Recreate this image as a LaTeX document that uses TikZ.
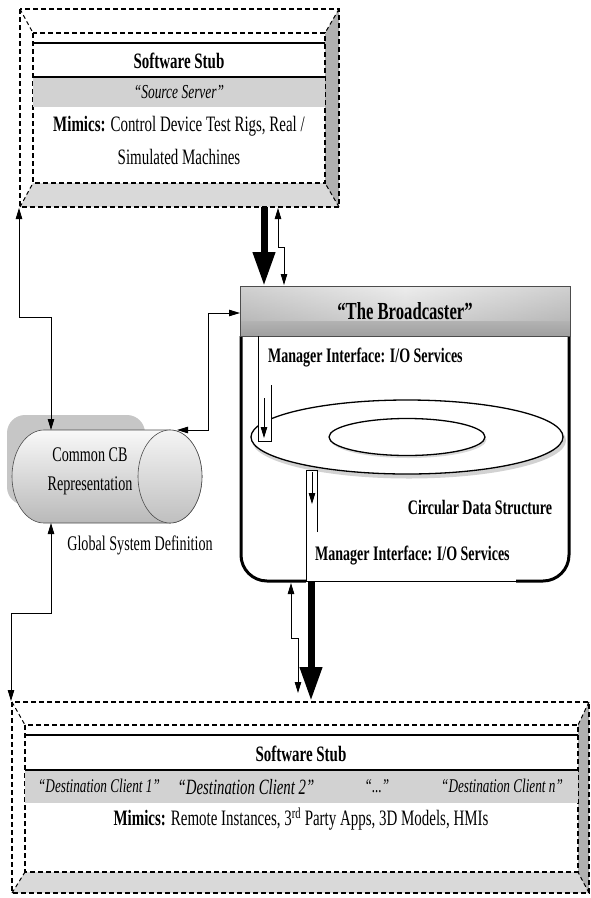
\documentclass[tikz,border=0pt]{standalone}
\usepackage{fontspec}
\setmainfont{Liberation Serif}[FakeStretch=0.68]
\usetikzlibrary{arrows.meta}
\begin{document}
\begin{tikzpicture}[x=1pt,y=1pt,
  dashbox/.style={dash pattern=on 5pt off 3pt, line width=1.3pt},
  diag/.style={dash pattern=on 4pt off 3pt, line width=1pt},
  rule/.style={line width=1.2pt},
  band/.style={fill=gray!35},
  tip/.tip={Triangle[width=6.5pt,length=11pt]},
  thinarrow/.style={line width=0.9pt, tip-tip},
  onearrow/.style={line width=0.9pt, -tip},
  bigarrow/.style={line width=7pt, -{Triangle[width=21pt,length=34pt]}},
  txt/.style={inner sep=0pt, font=\fontsize{20.8}{24}\selectfont},
  mtxt/.style={inner sep=0pt, font=\fontsize{22}{25}\selectfont},
  btxt/.style={inner sep=0pt, font=\fontsize{20.6}{24}\selectfont\bfseries},
  itxt/.style={inner sep=0pt, font=\fontsize{19.4}{23}\selectfont\itshape},
]
\useasboundingbox (0,0) rectangle (590,-898);

% ---------------- Source server box ----------------
\fill[white] (20,-9) rectangle (339,-207);
\fill[gray!30] (20,-207) -- (33,-183) -- (325,-183) -- (339,-207) -- cycle;
\fill[gray!62] (325,-33) -- (339,-9) -- (339,-207) -- (325,-183) -- cycle;
\draw[dashbox] (20,-9) rectangle (339,-207);
\draw[dashbox] (33,-33) rectangle (325,-183);
\draw[diag] (20,-9) -- (33,-33) (339,-9) -- (325,-33) (20,-207) -- (33,-183) (339,-207) -- (325,-183);
\fill[band] (33,-77) rectangle (325,-107);
\draw[rule] (33,-43) -- (325,-43) (33,-77) -- (325,-77);
\node[btxt, font=\fontsize{22}{25}\selectfont\bfseries] (srcTitle) at (179,-61) {Software Stub};
\node[itxt, font=\fontsize{19.8}{23}\selectfont\itshape] (srcRole) at (179,-92) {“Source Server”};
\node[mtxt, align=center] (srcMimics) at (179,-140)
  {\textbf{Mimics:} Control Device Test Rigs, Real /\\[8pt]Simulated Machines};
\coordinate (srcBL) at (19,-208);
\coordinate (srcThick) at (264,-207);
\coordinate (srcThin) at (278,-208);

% ---------------- Bottom (destination) box ----------------
\fill[white] (12,-702) rectangle (589,-893);
\fill[gray!30] (12,-893) -- (25,-872) -- (578,-872) -- (589,-893) -- cycle;
\fill[gray!62] (578,-725) -- (589,-702) -- (589,-893) -- (578,-872) -- cycle;
\draw[dashbox] (12,-702) rectangle (589,-893);
\draw[dashbox] (25,-725) rectangle (578,-872);
\draw[diag] (12,-702) -- (25,-725) (589,-702) -- (578,-725) (12,-893) -- (25,-872) (589,-893) -- (578,-872);
\fill[band] (25,-770) rectangle (578,-803);
\draw[rule] (25,-735) -- (578,-735) (25,-770) -- (578,-770);
\node[btxt, font=\fontsize{22}{25}\selectfont\bfseries] (dstTitle) at (301,-754) {Software Stub};
\node[itxt] (dc1) at (99,-786) {“Destination Client 1”};
\node[itxt, font=\fontsize{21.8}{25}\selectfont\itshape] (dc2) at (246,-787) {“Destination Client 2”};
\node[itxt] (dcdots) at (377,-786) {“...”};
\node[itxt] (dcn) at (502,-786) {“Destination Client n”};
\node[mtxt] (dstMimics) at (301,-819)
  {\textbf{Mimics:} Remote Instances, 3\textsuperscript{rd} Party Apps, 3D Models, HMIs};
\coordinate (dstTL) at (11,-701);
\coordinate (dstThick) at (311,-701);
\coordinate (dstThin) at (298,-693);

% ---------------- Broadcaster ----------------
\fill[white] (241,-336) rectangle (569,-581);
\draw[line width=3pt, rounded corners=26pt] (241,-336) -- (241,-581) -- (569,-581) -- (569,-336);
\shade[top color=gray!25, bottom color=gray!75] (240,-286) rectangle (570,-336);
\shade[left color=gray!50, right color=gray!50, middle color=white, opacity=0.45] (240,-286) rectangle (570,-320);
\draw[gray!60!black, line width=0.8pt] (240,-286) rectangle (570,-336);
\node[btxt, font=\fontsize{24.5}{28}\selectfont\bfseries] (bcTitle) at (405,-311) {“The Broadcaster”};
\coordinate (bcLeft) at (240,-313);
\coordinate (bcTopThin) at (284,-285);
\coordinate (bcTopThick) at (264,-286);
\coordinate (bcBotThick) at (311,-582);
\coordinate (bcBotThin) at (291,-583);

% circular data structure
\fill[gray!35] (409,-440.5) ellipse [x radius=157, y radius=38];
\filldraw[fill=white, line width=1.3pt] (407,-437) ellipse [x radius=156, y radius=37];
\fill[gray!30] (408.5,-439.5) ellipse [x radius=78, y radius=18.5];
\filldraw[fill=white, line width=1.3pt] (407,-437) ellipse [x radius=78, y radius=18.5];
\node[btxt] (cds) at (480,-507) {Circular Data Structure};

% upper manager interface
\node[btxt, anchor=west] (mgrTop) at (268,-358) {Manager Interface: I/O Services};
\fill[white] (258.5,-385) rectangle (270.5,-441);
\draw[line width=0.9pt] (258,-336) -- (258,-441) -- (271,-441) -- (271,-385);
\coordinate (mtA) at (264,-398);
\coordinate (mtB) at (264,-438);
\draw[onearrow] (mtA) -- (mtB);

% lower manager interface
\fill[white] (306,-530) rectangle (516,-583);
\draw[line width=0.9pt] (317,-532) -- (317,-470) -- (306,-470) -- (306,-581) -- (516,-581);
\node[btxt, anchor=west] (mgrBot) at (315,-556) {Manager Interface: I/O Services};
\coordinate (mbA) at (312,-472);
\coordinate (mbB) at (312,-504);
\draw[onearrow] (mbA) -- (mbB);

% ---------------- Common CB cylinder ----------------
\fill[gray!45, rounded corners=18pt] (7,-415) rectangle (145,-505);
\shadedraw[top color=gray!5, bottom color=gray!55, draw=gray!60!black, line width=0.6pt]
  (44,-430) -- (170,-430) arc[start angle=90, end angle=-90, x radius=32, y radius=46.5]
  -- (44,-523) arc[start angle=270, end angle=90, x radius=32, y radius=46.5] -- cycle;
\shadedraw[top color=gray!8, bottom color=gray!50, draw=gray!60!black, line width=0.6pt]
  (170,-476.5) ellipse [x radius=32, y radius=46.5];
\node[txt, align=center] (cb) at (90,-471) {Common CB\\[5pt]Representation};
\node[txt] (gsd) at (140,-545) {Global System Definition};
\coordinate (cbTop) at (51,-430);
\coordinate (cbTR) at (177,-430);
\coordinate (cbBot) at (51,-523);

% ---------------- connectors ----------------
\coordinate (p1) at (19,-317);
\coordinate (p2) at (51,-317);
\draw[thinarrow] (srcBL) -- (p1) -- (p2) -- (cbTop);

\coordinate (q1) at (208,-313);
\coordinate (q2) at (208,-430);
\draw[thinarrow] (bcLeft) -- (q1) -- (q2) -- (cbTR);

\coordinate (r1) at (51,-613);
\coordinate (r2) at (11,-613);
\draw[thinarrow] (cbBot) -- (r1) -- (r2) -- (dstTL);

\draw[bigarrow] (srcThick) -- (bcTopThick);
\coordinate (s1) at (278,-247);
\coordinate (s2) at (284,-247);
\draw[thinarrow] (srcThin) -- (s1) -- (s2) -- (bcTopThin);

\draw[bigarrow] (bcBotThick) -- (dstThick);
\coordinate (t1) at (291,-638);
\coordinate (t2) at (298,-638);
\draw[thinarrow] (bcBotThin) -- (t1) -- (t2) -- (dstThin);
\end{tikzpicture}
\end{document}
